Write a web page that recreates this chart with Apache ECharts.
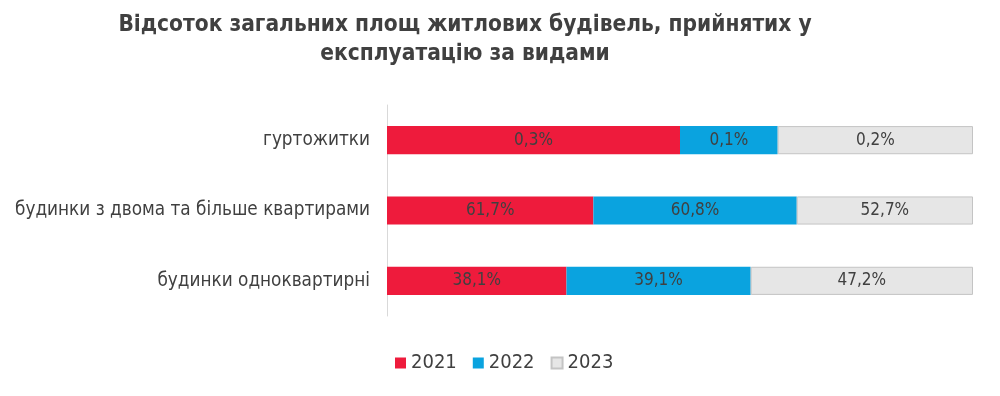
<!DOCTYPE html>
<html><head><meta charset="utf-8">
<script src="https://cdn.jsdelivr.net/npm/echarts@6/dist/echarts.min.js"></script>
<style>html,body{margin:0;padding:0;background:#fff}#c{width:1000px;height:396px}</style>
</head><body><div id="c"></div>
<script>
const categories = ['гуртожитки', 'будинки з двома та більше квартирами', 'будинки одноквартирні'];
const years = ['2021', '2022', '2023'];
const v2021 = [0.3, 61.7, 38.1];
const v2022 = [0.1, 60.8, 39.1];
const v2023 = [0.2, 52.7, 47.2];
const colors = ['#ee1b3c', '#0aa3df', '#e6e6e6'];
const titleText = 'Відсоток загальних площ житлових будівель, прийнятих у\nексплуатацію за видами';

const all = [v2021, v2022, v2023];
const totals = categories.map((_, i) => all.reduce((s, a) => s + a[i], 0));
const fmt = v => v.toFixed(1).replace('.', ',') + '%';

const font = 'DejaVu Sans Condensed';
const series = years.map((y, k) => ({
  name: y,
  type: 'bar',
  stack: 'total',
  barCategoryGap: '60%',
  data: all[k].map((v, i) => ({ value: v / totals[i] * 100, raw: v })),
  itemStyle: k === 2 ? { color: colors[k], borderColor: '#c4c4c4', borderWidth: 1 } : { color: colors[k] },
  label: {
    show: true, position: 'inside', color: '#404040', fontFamily: font, fontSize: 17,
    formatter: p => fmt(p.data.raw)
  }
}));

const chart = echarts.init(document.getElementById('c'), null, { renderer: 'canvas' });
chart.setOption({
  animation: false,
  title: {
    text: titleText, left: 460, textAlign: 'center', top: 6,
    textStyle: { fontFamily: font, fontWeight: 'bold', fontSize: 22.5, color: '#404040', lineHeight: 29 }
  },
  legend: {
    data: years, left: 390, top: 348, itemWidth: 11, itemHeight: 11, itemGap: 16,
    icon: 'rect',
    textStyle: { fontFamily: font, fontSize: 20, color: '#404040' }
  },
  grid: { left: 387, right: 27, top: 105, bottom: 80 },
  xAxis: { type: 'value', min: 0, max: 100, show: false },
  yAxis: {
    type: 'category', data: categories, inverse: true,
    axisLine: { show: true, lineStyle: { color: '#d9d9d9', width: 1 } },
    axisTick: { show: false },
    axisLabel: { fontFamily: font, fontSize: 18.8, color: '#404040', margin: 17 }
  },
  series
});
</script></body></html>
